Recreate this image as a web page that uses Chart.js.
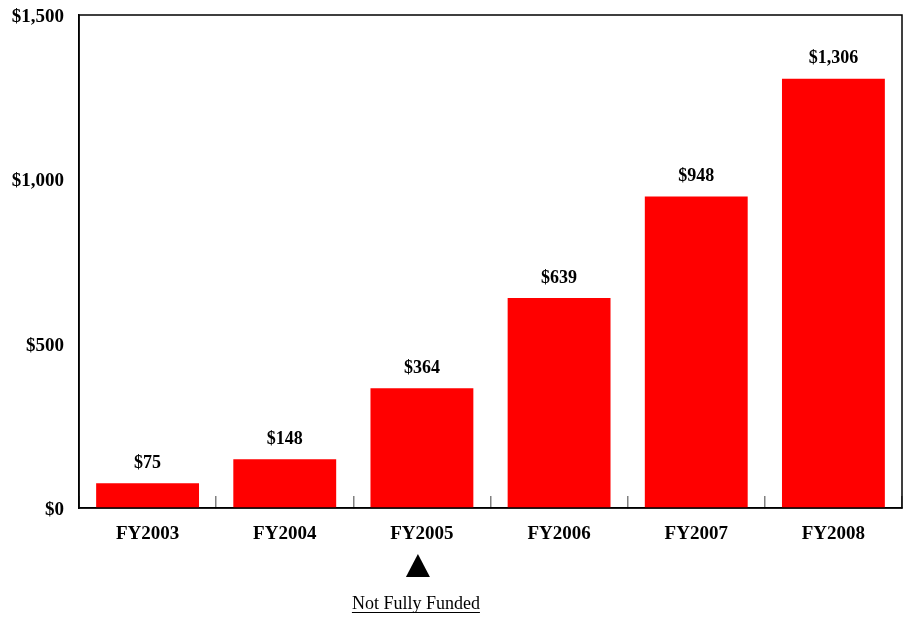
<!DOCTYPE html>
<html>
<head>
<meta charset="utf-8">
<script src="https://cdn.jsdelivr.net/npm/chart.js@4/dist/chart.umd.min.js"></script>
<style>
  html, body { margin: 0; padding: 0; background: #ffffff; }
  #wrap { width: 905px; height: 617px; position: relative; }
</style>
</head>
<body>
<div id="wrap"><canvas id="c" width="905" height="617"></canvas></div>
<script>
const categories = ["FY2003", "FY2004", "FY2005", "FY2006", "FY2007", "FY2008"];
const values = [75, 148, 364, 639, 948, 1306];
const yTicks = [0, 500, 1000, 1500];
const noteCategory = "FY2005";
const noteText = "Not Fully Funded";

const fmt = v => "$" + v.toLocaleString("en-US");
const SERIF = "'Liberation Serif', 'Times New Roman', serif";

const framePlugin = {
  id: "frame",
  afterDraw(chart) {
    const { ctx, chartArea: a } = chart;
    ctx.save();
    ctx.strokeStyle = "#000";
    ctx.lineWidth = 1.5;
    ctx.strokeRect(a.left, a.top, a.right - a.left, a.bottom - a.top);
    // value labels
    const meta = chart.getDatasetMeta(0);
    ctx.fillStyle = "#000";
    ctx.font = "bold 18px " + SERIF;
    ctx.textAlign = "center";
    ctx.textBaseline = "middle";
    meta.data.forEach((bar, i) => {
      ctx.fillText(fmt(values[i]), bar.x, bar.y - 20);
    });
    // note under FY2005
    const xs = chart.scales.x;
    const idx = categories.indexOf(noteCategory);
    const cx = xs.getPixelForValue(idx) - 4;
    const tTop = a.bottom + 46, tH = 23, tW = 24;
    ctx.beginPath();
    ctx.moveTo(cx, tTop);
    ctx.lineTo(cx + tW / 2, tTop + tH);
    ctx.lineTo(cx - tW / 2, tTop + tH);
    ctx.closePath();
    ctx.fill();
    ctx.font = "18px " + SERIF;
    ctx.textBaseline = "alphabetic";
    const ty = a.bottom + 101;
    ctx.fillText(noteText, cx - 2, ty);
    const w = ctx.measureText(noteText).width;
    ctx.lineWidth = 1;
    ctx.beginPath();
    ctx.moveTo(cx - 2 - w / 2, ty + 3.5);
    ctx.lineTo(cx - 2 + w / 2, ty + 3.5);
    ctx.stroke();
    ctx.restore();
  }
};

new Chart(document.getElementById("c"), {
  type: "bar",
  data: {
    labels: categories,
    datasets: [{
      data: values,
      backgroundColor: "#ff0000",
      borderWidth: 0,
      barPercentage: 0.75,
      categoryPercentage: 1.0
    }]
  },
  options: {
    responsive: false,
    animation: false,
    devicePixelRatio: 1,
    layout: { padding: { top: 15, right: 3, left: 0, bottom: 0 } },
    plugins: { legend: { display: false }, tooltip: { enabled: false } },
    scales: {
      x: {
        offset: true,
        grid: {
          offset: true,
          drawOnChartArea: false,
          drawTicks: true,
          tickLength: -12,
          color: "#808080",
          lineWidth: 1.5
        },
        border: { display: true, color: "#000", width: 1.5 },
        ticks: {
          color: "#000",
          font: { family: SERIF, size: 19, weight: "bold" },
          padding: 27,
          maxRotation: 0
        },
        afterFit(s) { s.height = 109; s.paddingLeft = 0; s.paddingRight = 0; }
      },
      y: {
        min: 0,
        max: 1500,
        afterBuildTicks(s) { s.ticks = yTicks.map(v => ({ value: v })); },
        grid: { display: false, drawTicks: false },
        border: { display: true, color: "#000", width: 1.5 },
        ticks: {
          color: "#000",
          font: { family: SERIF, size: 19, weight: "bold" },
          padding: 15,
          labelOffset: 2,
          callback: v => fmt(v)
        },
        afterFit(s) { s.width = 79; s.paddingTop = 0; s.paddingBottom = 0; }
      }
    }
  },
  plugins: [framePlugin]
});
</script>
</body>
</html>
